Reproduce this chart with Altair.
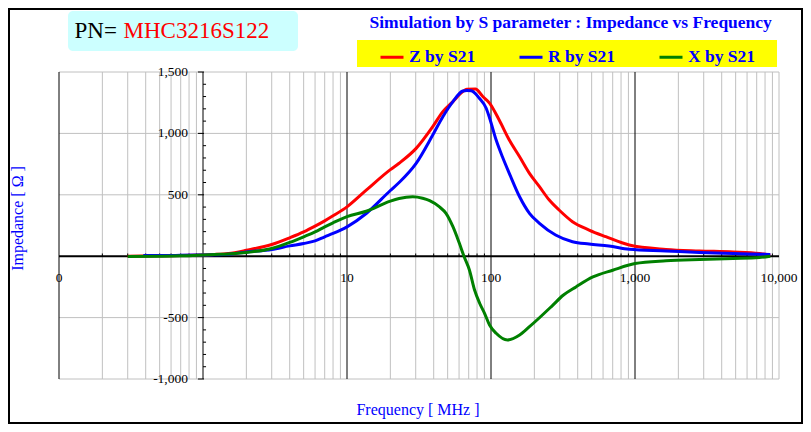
import altair as alt
import pandas as pd

# ---- data (frequency in MHz, impedance in ohm) ----
z_freq = [0.3, 0.5, 0.7, 1, 1.2, 1.5, 2, 3, 4, 5, 6, 7, 8, 10, 13.6, 20, 23, 30.2, 39.4, 46.3, 54.4,
          63.7, 68, 78, 87.7, 98, 114, 134, 158, 185, 217, 254, 297, 368, 480, 627, 912,
          1640, 2800, 4800, 7300, 8700]
z_vals = [0, 3, 5, 10, 14, 22, 48, 95, 150, 198, 245, 288, 329, 402, 538, 705, 757, 878, 1055, 1177, 1259,
          1340, 1360, 1362, 1300, 1245, 1109, 946, 810, 675, 566, 457, 376, 281, 213, 159, 91,
          55, 43, 35, 22, 8]

r_freq = [0.385, 0.5, 0.7, 1, 1.2, 1.5, 2, 3, 4, 5, 6, 7, 8, 10, 13.6, 20, 23, 30.2, 39.4, 46.3, 54.4,
          63.7, 68, 72.9, 83, 92.6, 98, 108.6, 120, 134, 158, 185, 217, 281, 368, 480, 659, 912, 1640,
          2800, 4800, 8700]
r_vals = [5, 5, 7, 10, 12, 16, 35, 55, 84, 103, 125, 158, 185, 239, 348, 535, 600, 756, 987, 1136, 1259,
          1345, 1350, 1348, 1286, 1205, 1122, 946, 810, 675, 484, 349, 268, 173, 118, 99, 83, 56, 43,
          30, 22, 14]

x_freq = [0.3, 0.5, 0.7, 1, 1.2, 1.5, 2, 3, 4, 5, 6, 7, 8, 10, 13.6, 20, 23, 28.6, 33.5, 37.5, 43.7, 48.7,
          54.4, 60.3, 65.1, 70.8, 76.9, 83.4, 90.2, 97.7, 108.6, 130, 158, 185, 268, 317, 389, 510, 700,
          1000, 1640, 2800, 4800, 7300, 8700]
x_vals = [-2, 0, 3, 10, 14, 18, 30, 63, 112, 158, 198, 239, 272, 322, 366, 449, 470, 484, 472, 452, 403, 349,
          240, 105, -4, -112, -275, -383, -465, -560, -628, -682, -641, -574, -400, -318, -250, -169, -114,
          -60, -38, -27, -19, -11, 0]

series_names = ["Z by S21", "R by S21", "X by S21"]
series_colors = ["#ff0000", "#0000ff", "#008000"]

x_label_vals = [0.1, 10, 100, 1000, 10000]
x_label_text = ["0", "10", "100", "1,000", "10,000"]
y_label_vals = [-1000, -500, 500, 1000, 1500]
y_label_text = ["-1,000", "-500", "500", "1,000", "1,500"]
y_major = [-1000, -500, 0, 500, 1000, 1500]
grid_decades = [0.1, 10, 100, 1000]
grid_minor = [0.2, 0.3, 0.4, 0.5, 0.6, 0.7, 0.8, 0.9,
              2, 3, 4, 5, 6, 7, 8, 9,
              20, 30, 40, 50, 60, 70, 80, 90,
              200, 300, 400, 500, 600, 700, 800, 900,
              2000, 3000, 4000, 5000, 6000, 7000, 8000, 9000]
grid_edge = [10000]
grid_y = [-1000, -500, 500, 1000, 1500]
y_minor = [-900, -800, -700, -600, -400, -300, -200, -100, 100, 200, 300, 400,
           600, 700, 800, 900, 1100, 1200, 1300, 1400]

# ---- tables ----
rows = []
for name, fr, vs in zip(series_names, [z_freq, r_freq, x_freq], [z_vals, r_vals, x_vals]):
    for i, (f, v) in enumerate(zip(fr, vs)):
        rows.append({"series": name, "f": f, "v": v, "i": i})
lines_df = pd.DataFrame(rows)

minor_df = pd.DataFrame({"f": grid_minor, "v0": [0] * len(grid_minor), "v1": [22] * len(grid_minor)})
edge_df = pd.DataFrame({"f": grid_edge})
dec_df = pd.DataFrame({"f": grid_decades})
gy_df = pd.DataFrame({"v": grid_y})
ym_df = pd.DataFrame({"v": y_minor, "f0": [1] * len(y_minor), "f1": [1.05] * len(y_minor)})
yM_df = pd.DataFrame({"v": y_major, "f0": [0.922] * len(y_major), "f1": [1.016] * len(y_major)})
zero_df = pd.DataFrame({"v": [0]})
yaxis_df = pd.DataFrame({"f": [1]})
xlab_df = pd.DataFrame({"f": x_label_vals, "lab": x_label_text, "v": [0] * len(x_label_vals)})
ylab_df = pd.DataFrame({"v": y_label_vals, "lab": y_label_text, "f": [1] * len(y_label_vals)})
one = pd.DataFrame({"a": [0]})

XS = alt.Scale(type="log", domain=[0.1, 10000], nice=False)
YS = alt.Scale(domain=[-1000, 1500], nice=False, zero=False)
SERIF = "Liberation Serif"
GRAY = "#c0c0c0"

vminor = alt.Chart(minor_df).mark_rule(color=GRAY, strokeWidth=1).encode(
    x=alt.X("f:Q", scale=XS, axis=None))
vedge = alt.Chart(edge_df).mark_rule(color=GRAY, strokeWidth=1).encode(
    x=alt.X("f:Q", scale=XS, axis=None))
hgrid = alt.Chart(gy_df).mark_rule(color=GRAY, strokeWidth=1).encode(
    y=alt.Y("v:Q", scale=YS, axis=None))
vdec = alt.Chart(dec_df).mark_rule(color="black", strokeWidth=1).encode(
    x=alt.X("f:Q", scale=XS, axis=None))
zero_line = alt.Chart(zero_df).mark_rule(color="black", strokeWidth=2).encode(
    y=alt.Y("v:Q", scale=YS, axis=None))
y_axis_line = alt.Chart(yaxis_df).mark_rule(color="black", strokeWidth=1).encode(
    x=alt.X("f:Q", scale=XS, axis=None))
x_minor_ticks = alt.Chart(minor_df).mark_rule(color="black", strokeWidth=1).encode(
    x=alt.X("f:Q", scale=XS, axis=None),
    y=alt.Y("v0:Q", scale=YS, axis=None), y2="v1:Q")
y_minor_ticks = alt.Chart(ym_df).mark_rule(color="black", strokeWidth=1).encode(
    y=alt.Y("v:Q", scale=YS, axis=None),
    x=alt.X("f0:Q", scale=XS, axis=None), x2="f1:Q")
y_major_ticks = alt.Chart(yM_df).mark_rule(color="black", strokeWidth=1).encode(
    y=alt.Y("v:Q", scale=YS, axis=None),
    x=alt.X("f0:Q", scale=XS, axis=None), x2="f1:Q")

x_labels = alt.Chart(xlab_df).mark_text(align="center", baseline="top", font=SERIF, fontSize=13.5,
                                        color="black", dy=15).encode(
    x=alt.X("f:Q", scale=XS, axis=None), y=alt.Y("v:Q", scale=YS, axis=None), text="lab:N")
y_labels = alt.Chart(ylab_df).mark_text(align="right", baseline="middle", font=SERIF, fontSize=13.5,
                                        color="black", dx=-15).encode(
    x=alt.X("f:Q", scale=XS, axis=None), y=alt.Y("v:Q", scale=YS, axis=None), text="lab:N")

# decorations (frame, title box, legend background)
frame = alt.Chart(one).mark_rect(fill="white", fillOpacity=0, stroke="black", strokeWidth=2).encode(
    x=alt.value(-50), x2=alt.value(743), y=alt.value(-63), y2=alt.value(351))
title_box = alt.Chart(one).mark_rect(fill="#ccffff", cornerRadius=5).encode(
    x=alt.value(9), x2=alt.value(239), y=alt.value(-61), y2=alt.value(-21))
legend_box = alt.Chart(one).mark_rect(fill="#ffff00").encode(
    x=alt.value(298), x2=alt.value(718), y=alt.value(-32), y2=alt.value(-5))

pn_text = alt.Chart(one).mark_text(align="left", baseline="alphabetic", font=SERIF, fontSize=23,
                                   color="black", text="PN=").encode(
    x=alt.value(15.5), y=alt.value(-34))
pn_value = alt.Chart(one).mark_text(align="left", baseline="alphabetic", font=SERIF, fontSize=23,
                                    color="#ff0000", text="MHC3216S122").encode(
    x=alt.value(64.5), y=alt.value(-34))
subtitle = alt.Chart(one).mark_text(align="center", baseline="alphabetic", font=SERIF, fontSize=17.5,
                                    fontWeight="bold", color="#0000ff",
                                    text="Simulation by S parameter : Impedance vs Frequency").encode(
    x=alt.value(511.7), y=alt.value(-43.7))
x_title = alt.Chart(one).mark_text(align="center", baseline="alphabetic", font=SERIF, fontSize=16,
                                   color="#0000ff", text="Frequency [ MHz ]").encode(
    x=alt.value(359), y=alt.value(343))
y_title = alt.Chart(one).mark_text(align="center", baseline="middle", font=SERIF, fontSize=16,
                                   color="#0000ff", angle=270, text="Impedance [ Ω ]").encode(
    x=alt.value(-41.5), y=alt.value(146.5))

lines = alt.Chart(lines_df).mark_line(strokeWidth=3, interpolate="monotone").encode(
    x=alt.X("f:Q", scale=XS, axis=None),
    y=alt.Y("v:Q", scale=YS, axis=None),
    color=alt.Color("series:N", sort=series_names,
                    scale=alt.Scale(domain=series_names, range=series_colors),
                    legend=alt.Legend(orient="none", legendX=320, legendY=-28, direction="horizontal",
                                      columns=3, title=None, symbolType="stroke", symbolStrokeWidth=3,
                                      symbolSize=529, labelFont=SERIF, labelFontSize=17.5,
                                      labelFontWeight="bold", labelColor="#0000ff", labelOffset=4,
                                      columnPadding=37, padding=0)),
    order=alt.Order("i:Q"),
)

chart = alt.layer(
    frame, title_box, legend_box, pn_text, pn_value, subtitle, x_title, y_title,
    vminor, vedge, hgrid, vdec, x_labels, y_labels, zero_line, y_axis_line,
    x_minor_ticks, y_minor_ticks, y_major_ticks,
    lines,
).properties(
    width=720, height=307,
    padding={"left": 51, "top": 64, "right": 24, "bottom": 45},
    autosize="none",
    background="white",
).configure_view(stroke=None)

chart.save("out.html", embed_options={"renderer": "svg", "actions": False})
